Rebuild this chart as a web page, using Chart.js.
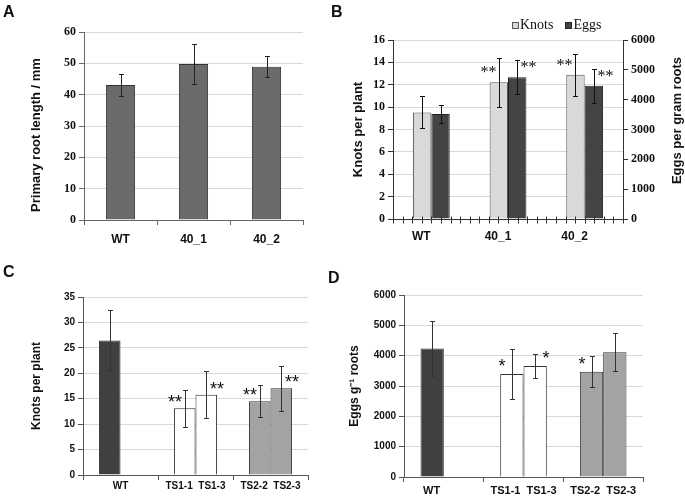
<!DOCTYPE html>
<html>
<head>
<meta charset="utf-8">
<script src="https://cdn.jsdelivr.net/npm/chart.js@4.4.0/dist/chart.umd.min.js"></script>
<style>
  body { margin: 0; background: #fff; }
  #fig { position: relative; width: 685px; height: 497px; overflow: hidden; }
  canvas { position: absolute; }
  .letter { position: absolute; z-index: 2; font: bold 16px "Liberation Sans", Arial, sans-serif; line-height: 16px; color: #111; }
  #legendB { position: absolute; left: 512px; top: 18px; font: 14px "Liberation Serif", "Times New Roman", serif; line-height: 14px; white-space: nowrap; color: #111; }
  #legendB .box { display: inline-block; width: 5px; height: 5px; border: 1px solid #333; margin-right: 1px; vertical-align: baseline; }
</style>
</head>
<body>
<div id="fig">
  <canvas id="chA" width="340" height="250" style="left:0;top:0"></canvas>
  <canvas id="chB" width="345" height="250" style="left:340px;top:0"></canvas>
  <canvas id="chC" width="340" height="247" style="left:0;top:250px"></canvas>
  <canvas id="chD" width="345" height="247" style="left:340px;top:250px"></canvas>
  <div class="letter" style="left:3px;top:4px">A</div>
  <div class="letter" style="left:331px;top:4px">B</div>
  <div class="letter" style="left:3px;top:264px">C</div>
  <div class="letter" style="left:328px;top:270px">D</div>
  <div id="legendB"></div>
</div>
<script>
/* panel data */

// A: primary root length
var labelsA = ['WT', '40_1', '40_2'];
var rootLength = [43.1, 49.8, 48.9];
var rootLengthErr = [3.45, 6.35, 3.35];

// B: knots and eggs, lines 40_1 / 40_2
var labelsB = ['WT', '40_1', '40_2'];
var knotsB = [9.52, 12.23, 12.89];
var knotsBErr = [1.43, 2.19, 1.9];
var knotsBStars = ['', '**', '**'];
var eggsB = [3516, 4754, 4464];
var eggsBErr = [310, 560, 580];
var eggsBStars = ['', '**', '**'];

// C and D: TS lines
var linesCD = ['WT', 'TS1-1', 'TS1-3', 'TS2-2', 'TS2-3'];
var groupsCD = [[0], [1, 2], [3, 4]];
var knotsC = [26.46, 13.13, 15.76, 14.51, 17.07];
var knotsCErr = [5.9, 3.6, 4.65, 3.15, 4.4];
var knotsCStars = ['', '**', '**', '**', '**'];
var eggsD = [4234, 3396, 3660, 3473, 4112];
var eggsDErr = [920, 810, 390, 510, 620];
var eggsDStars = ['', '*', '*', '*', ''];

/* styles */
var sans = '"Liberation Sans", Arial, sans-serif';
var serif = '"Liberation Serif", "Times New Roman", serif';
var gridColor = '#d9d9d9';
var lineColorsCD = ['#404040', '#ffffff', '#ffffff', '#a3a3a3', '#a3a3a3'];

Chart.defaults.color = '#111';
Chart.defaults.animation = false;
Chart.defaults.plugins.legend.display = false;
Chart.defaults.plugins.tooltip.enabled = false;

// error bars + significance stars on top of each bar
var errorBars = {
  id: 'errorBars',
  afterDatasetsDraw: function (chart, args, opts) {
    var ctx = chart.ctx;
    chart.data.datasets.forEach(function (ds, di) {
      var meta = chart.getDatasetMeta(di);
      var scale = chart.scales[meta.yAxisID];
      meta.data.forEach(function (bar, i) {
        var v = ds.data[i];
        if (v === null || v === undefined) return;
        var x = Math.round(bar.x) + 0.5;
        var hi = Math.round(scale.getPixelForValue(v + ds.err[i])) + 0.5;
        var lo = Math.round(scale.getPixelForValue(v - ds.err[i])) + 0.5;
        ctx.save();
        ctx.strokeStyle = opts.color;
        ctx.lineWidth = 1;
        ctx.beginPath();
        ctx.moveTo(x, hi); ctx.lineTo(x, lo);
        ctx.moveTo(x - opts.cap, hi); ctx.lineTo(x + opts.cap, hi);
        ctx.moveTo(x - opts.cap, lo); ctx.lineTo(x + opts.cap, lo);
        ctx.stroke();
        var star = ds.stars ? ds.stars[i] : '';
        if (star) {
          var left = ds.starSide === 'left';
          ctx.font = opts.starFont;
          ctx.fillStyle = '#111';
          ctx.textAlign = left ? 'right' : 'left';
          ctx.textBaseline = 'alphabetic';
          ctx.fillText(star, left ? x - opts.starDx : x + opts.starDx, bar.y + opts.starDy);
        }
        ctx.restore();
      });
    });
  }
};

// small ticks along the x axis of panel B
var minorTicks = {
  id: 'minorTicks',
  afterDraw: function (chart, args, opts) {
    var xs = chart.scales.x, ctx = chart.ctx;
    var n = chart.data.labels.length * opts.perCategory;
    var y = Math.round(xs.top) + 0.5;
    ctx.save();
    ctx.strokeStyle = opts.color;
    ctx.lineWidth = 1;
    ctx.beginPath();
    for (var i = 0; i <= n; i++) {
      var x = Math.round(xs.left + xs.width * i / n) + 0.5;
      ctx.moveTo(x, y - 3); ctx.lineTo(x, y + 4);
    }
    ctx.stroke();
    ctx.restore();
  }
};

// right axis title reading bottom to top
var sideTitle = {
  id: 'sideTitle',
  afterDraw: function (chart, args, opts) {
    var s = chart.scales[opts.axis], ctx = chart.ctx;
    ctx.save();
    ctx.font = opts.font;
    ctx.fillStyle = '#111';
    ctx.textAlign = 'center';
    ctx.textBaseline = 'middle';
    ctx.translate(s.right - opts.offset, (s.top + s.bottom) / 2 + opts.shift);
    ctx.rotate(-Math.PI / 2);
    ctx.fillText(opts.text, 0, 0);
    ctx.restore();
  }
};

function yAxis(max, step, width, tickFont, axisColor, title, titleSize, titlePad) {
  return {
    min: 0, max: max,
    ticks: {stepSize: step, font: tickFont, padding: 3, callback: function (v) { return String(v); }},
    grid: {color: gridColor, tickColor: axisColor, tickLength: 5},
    border: {color: axisColor},
    title: {display: !!title, text: title, font: {family: sans, size: titleSize, weight: 'bold'}, padding: {top: titlePad, bottom: 0}},
    afterFit: function (s) { s.width = width; }
  };
}

function xAxis(height, font, axisColor, pad) {
  return {
    ticks: {font: font, padding: pad, maxRotation: 0, autoSkip: false},
    grid: {drawOnChartArea: false, tickLength: 5, tickColor: axisColor, offset: true},
    border: {color: axisColor},
    afterFit: function (s) { s.height = height; }
  };
}

// group C/D lines into clustered slots
function slot(values, k) {
  return groupsCD.map(function (g) { return g[k] === undefined ? null : values[g[k]]; });
}
var labelsCD = groupsCD.map(function (g) {
  return g.map(function (i) { return linesCD[i]; }).join('  ');
});

/* A */
new Chart(document.getElementById('chA'), {
  type: 'bar',
  data: {
    labels: labelsA,
    datasets: [{
      data: rootLength, err: rootLengthErr,
      backgroundColor: '#6b6b6b', borderColor: '#333', borderWidth: 1,
      barPercentage: 0.4, categoryPercentage: 1
    }]
  },
  options: {
    responsive: false,
    layout: {padding: {top: 32, right: 37, left: 0, bottom: 0}},
    scales: {
      x: xAxis(30, {family: sans, size: 12, weight: 'bold'}, '#666', 7),
      y: yAxis(60, 10, 84, {family: serif, size: 12, weight: 'bold'}, '#666', 'Primary root length / mm     ', 13, 29)
    },
    plugins: {errorBars: {color: '#222', cap: 2.5}}
  },
  plugins: [errorBars]
});

/* B */
var xB = xAxis(31, {family: sans, size: 12, weight: 'bold'}, '#333', 5);
xB.grid.drawTicks = false;
xB.ticks.padding = 10;
xB.ticks.labelOffset = -10;
var y1B = yAxis(6000, 1000, 62, {family: serif, size: 12, weight: 'bold'}, '#333', '', 13, 0);
y1B.position = 'right';
y1B.grid.drawOnChartArea = false;

var chB = new Chart(document.getElementById('chB'), {
  type: 'bar',
  data: {
    labels: labelsB,
    datasets: [{
      label: 'Knots', data: knotsB, err: knotsBErr, stars: knotsBStars, starSide: 'left', yAxisID: 'y',
      backgroundColor: '#d9d9d9', borderColor: '#555', borderWidth: 1,
      barPercentage: 1, categoryPercentage: 0.48
    }, {
      label: 'Eggs', data: eggsB, err: eggsBErr, stars: eggsBStars, starSide: 'right', yAxisID: 'y1',
      backgroundColor: '#444444', borderColor: '#222', borderWidth: 1,
      barPercentage: 1, categoryPercentage: 0.48
    }]
  },
  options: {
    responsive: false,
    layout: {padding: {top: 40, right: 0, left: 0, bottom: 0}},
    scales: {
      x: xB,
      y: yAxis(16, 2, 53, {family: serif, size: 12, weight: 'bold'}, '#333', 'Knots per plant', 13, 11),
      y1: y1B
    },
    plugins: {
      errorBars: {color: '#111', cap: 2.5, starFont: '16px ' + serif, starDx: 3, starDy: -5},
      minorTicks: {perCategory: 8, color: '#333'},
      sideTitle: {axis: 'y1', text: 'Eggs per gram roots', font: 'bold 13px ' + sans, offset: 8, shift: -9}
    }
  },
  plugins: [errorBars, minorTicks, sideTitle]
});

// html legend for B, built from the datasets
var legendB = document.getElementById('legendB');
chB.data.datasets.forEach(function (ds, i) {
  var item = document.createElement('span');
  if (i > 0) item.style.marginLeft = '12px';
  item.innerHTML = '<span class="box" style="background:' + ds.backgroundColor +
    ';border-color:' + ds.borderColor + '"></span>' + ds.label;
  legendB.appendChild(item);
});

/* C */
function slotColors(k) {
  return groupsCD.map(function (g) { return g[k] === undefined ? 'rgba(0,0,0,0)' : lineColorsCD[g[k]]; });
}
new Chart(document.getElementById('chC'), {
  type: 'bar',
  data: {
    labels: labelsCD,
    datasets: [0, 1].map(function (k) {
      return {
        data: slot(knotsC, k), err: slot(knotsCErr, k), stars: slot(knotsCStars, k),
        starSide: k === 0 ? 'left' : 'right',
        backgroundColor: slotColors(k), borderColor: '#333', borderWidth: 1,
        barPercentage: 1, categoryPercentage: 0.575
      };
    })
  },
  options: {
    responsive: false,
    layout: {padding: {top: 47, right: 32, left: 0, bottom: 0}},
    scales: {
      x: xAxis(22, {family: sans, size: 10, weight: 'bold'}, '#555', 0),
      y: yAxis(35, 5, 83, {family: sans, size: 10, weight: 'bold'}, '#555', 'Knots per plant', 12, 29)
    },
    plugins: {errorBars: {color: '#333', cap: 2.5, starFont: '18px ' + sans, starDx: 3.5, starDy: 0}}
  },
  plugins: [errorBars]
});

/* D */
var xD = xAxis(20, {family: sans, size: 11, weight: 'bold'}, '#555', 2);
xD.ticks.callback = function (v, i) {
  var l = this.getLabelForValue(v);
  return i === 0 ? l + '        ' : l;
};
new Chart(document.getElementById('chD'), {
  type: 'bar',
  data: {
    labels: labelsCD,
    datasets: [0, 1].map(function (k) {
      return {
        data: slot(eggsD, k), err: slot(eggsDErr, k), stars: slot(eggsDStars, k),
        starSide: k === 0 ? 'left' : 'right',
        backgroundColor: slotColors(k), borderColor: '#333', borderWidth: 1,
        barPercentage: 1, categoryPercentage: 0.585
      };
    })
  },
  options: {
    responsive: false,
    layout: {padding: {top: 45, right: 42, left: 0, bottom: 0}},
    scales: {
      x: xD,
      y: yAxis(6000, 1000, 64, {family: sans, size: 10, weight: 'bold'}, '#555', 'Eggs g\u207B\u00B9 roots', 12, 7)
    },
    plugins: {errorBars: {color: '#333', cap: 2.5, starFont: '18px ' + sans, starDx: 7, starDy: -2}}
  },
  plugins: [errorBars]
});
</script>
</body>
</html>
